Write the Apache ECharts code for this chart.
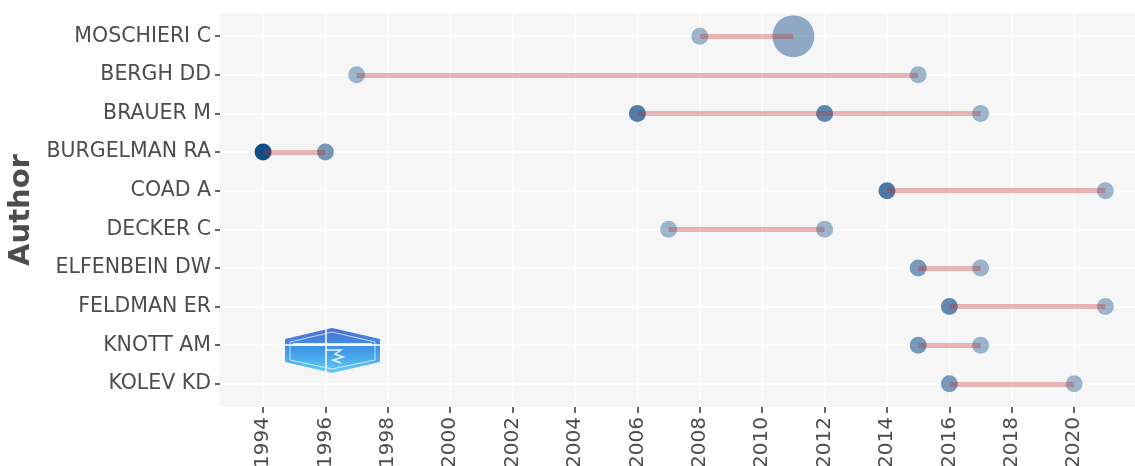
<!DOCTYPE html>
<html>
<head>
<meta charset="utf-8">
<title>Authors' Production over Time</title>
<script src="https://cdn.jsdelivr.net/npm/echarts@6/dist/echarts.min.js"></script>
<style>
  html, body { margin: 0; padding: 0; background: #ffffff; }
  #chart { width: 1135px; height: 466px; }
</style>
</head>
<body>
<div id="chart"></div>
<script>
// Authors, listed top to bottom
const authors = [
  'MOSCHIERI C', 'BERGH DD', 'BRAUER M', 'BURGELMAN RA', 'COAD A',
  'DECKER C', 'ELFENBEIN DW', 'FELDMAN ER', 'KNOTT AM', 'KOLEV KD'
];

// One entry per author-year: row (1-based author), year, articles, citations per year
const pubRow      = [1,    1,    2,    2,    3,    3,    3,    4,    4,    5,    5,    6,    6,    7,    7,    8,    8,    9,    9,    10,   10];
const pubYear     = [2008, 2011, 1997, 2015, 2006, 2012, 2017, 1994, 1996, 2014, 2021, 2007, 2012, 2015, 2017, 2016, 2021, 2015, 2017, 2016, 2020];
const pubArticles = [1,    2,    1,    1,    1,    1,    1,    1,    1,    1,    1,    1,    1,    1,    1,    1,    1,    1,    1,    1,    1];
const pubTCpY     = [1.4,  2.2,  1.3,  1.5,  6.2,  5.2,  1.4,  10,   3.8,  6.4,  1.3,  1.2,  1.4,  3.6,  1.5,  5.0,  1.3,  3.6,  1.4,  3.6,  1.3];

// Year tick labels
const yearTicks = [1994, 1996, 1998, 2000, 2002, 2004, 2006, 2008, 2010, 2012, 2014, 2016, 2018, 2020];

const points = pubYear.map((y, i) => [y, pubRow[i], pubArticles[i], pubTCpY[i]]);

// Each author's active span, from first to last year
const spans = authors.map((name, k) => {
  const years = pubYear.filter((y, i) => pubRow[i] === k + 1);
  return { coords: [[Math.min(...years), k + 1], [Math.max(...years), k + 1]] };
});

const rows = authors.map((a, i) => i + 1);
const textColor = '#4d4d4d';
const font = 'DejaVu Sans';

const chart = echarts.init(document.getElementById('chart'), null, { renderer: 'canvas' });

chart.setOption({
  animation: false,
  backgroundColor: '#ffffff',
  grid: {
    left: 220, right: 0, top: 13, bottom: 59,
    outerBoundsMode: 'none',
    containLabel: false,
    show: true, backgroundColor: '#f6f6f6', borderWidth: 0
  },
  xAxis: {
    type: 'value',
    min: 1992.62, max: 2021.95,
    axisLine: { show: false },
    axisTick: {
      show: true, length: 6, customValues: yearTicks,
      lineStyle: { color: '#333333', width: 1.5 }
    },
    axisLabel: {
      customValues: yearTicks, rotate: 90, margin: 10,
      color: textColor, fontFamily: font, fontSize: 20,
      formatter: v => String(Math.round(v))
    },
    splitLine: { show: true, lineStyle: { color: '#ffffff', width: 1.5 } }
  },
  yAxis: {
    type: 'value',
    inverse: true,
    min: 0.4, max: 10.6,
    name: 'Author',
    nameLocation: 'middle',
    nameGap: 182,
    nameTextStyle: { color: textColor, fontFamily: font, fontSize: 29, fontWeight: 'bold' },
    axisLine: { show: false },
    axisTick: {
      show: true, length: 5, customValues: rows,
      lineStyle: { color: '#333333', width: 1.5 }
    },
    axisLabel: {
      customValues: rows, margin: 9,
      color: textColor, fontFamily: font, fontSize: 20.5,
      formatter: v => authors[Math.round(v) - 1] || ''
    },
    splitLine: { show: true, lineStyle: { color: '#ffffff', width: 1.5 } }
  },
  visualMap: {
    show: false,
    seriesIndex: 0,
    dimension: 3,
    min: 0, max: 10,
    inRange: { colorAlpha: [0.3, 1] }
  },
  series: [
    {
      name: 'Articles',
      type: 'scatter',
      data: points,
      symbolSize: d => 17 + (d[2] - 1) * 25,
      itemStyle: { color: '#104E8B', opacity: 1 },
      z: 2
    },
    {
      name: 'Span',
      type: 'lines',
      coordinateSystem: 'cartesian2d',
      data: spans,
      lineStyle: { color: 'rgba(190,40,40,0.33)', width: 5, cap: 'butt', opacity: 1 },
      z: 3
    }
  ],
  graphic: [
    {
      type: 'group',
      left: 285, top: 328,
      children: [
        {
          type: 'polygon',
          shape: { points: [[47, 0], [95, 11], [95, 34], [47, 45], [0, 34], [0, 11]] },
          style: {
            fill: new echarts.graphic.LinearGradient(0, 0, 0, 1, [
              { offset: 0, color: '#3a5fd0' },
              { offset: 0.5, color: '#2b8fe6' },
              { offset: 1, color: '#55c8f5' }
            ]),
            opacity: 0.9
          }
        },
        {
          type: 'polygon',
          shape: { points: [[47, 4], [90, 14], [90, 32], [47, 41], [5, 32], [5, 14]] },
          style: { fill: 'none', stroke: '#ffffff', lineWidth: 1, opacity: 0.7 }
        },
        {
          type: 'rect',
          shape: { x: 8, y: 15, width: 79, height: 3 },
          style: { fill: '#ffffff', opacity: 0.8 }
        },
        {
          type: 'polyline',
          shape: { points: [[40, 22], [56, 22], [50, 26], [58, 29], [48, 32], [56, 35]] },
          style: { stroke: '#ffffff', lineWidth: 1.5, fill: 'none', opacity: 0.85 }
        }
      ]
    }
  ]
});
</script>
</body>
</html>
